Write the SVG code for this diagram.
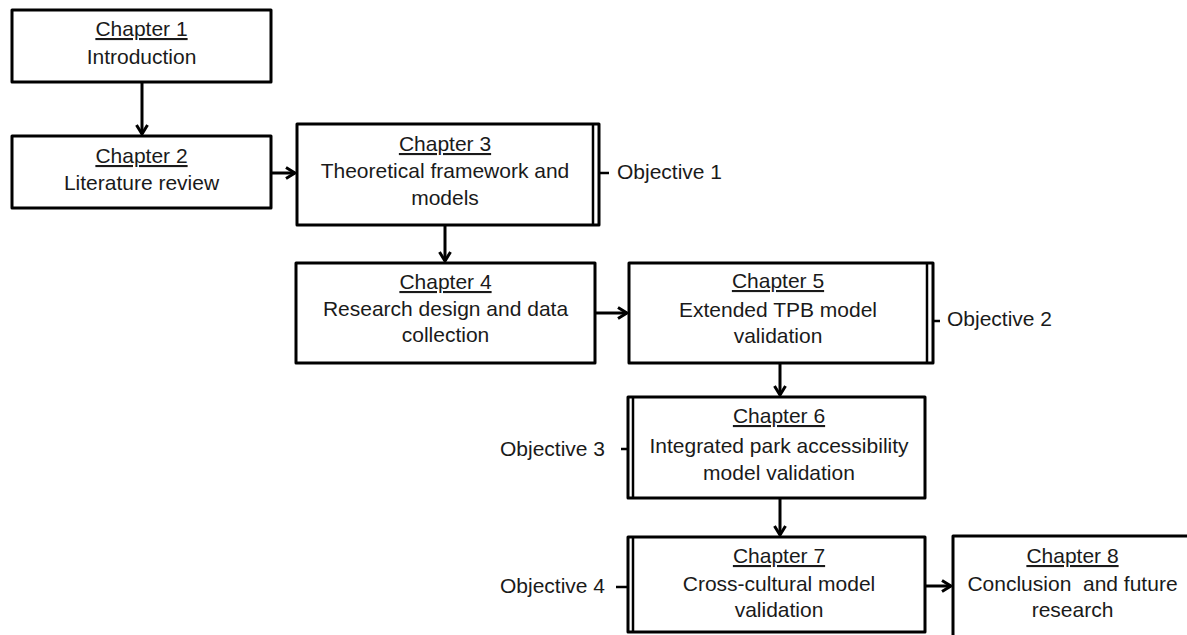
<svg xmlns="http://www.w3.org/2000/svg" width="1187" height="635" viewBox="0 0 1187 635">
<defs>
<style>
.box{fill:#fff;stroke:#000;stroke-width:3;stroke-linejoin:round}
.dl{stroke:#000;stroke-width:2.5;fill:none}
.t{font-family:"Liberation Sans",Arial,sans-serif;font-size:21px;fill:#1a1a1a;text-anchor:middle}
.u{text-decoration:underline}
.o{font-family:"Liberation Sans",Arial,sans-serif;font-size:21px;fill:#1a1a1a}
.c{stroke:#000;stroke-width:3;fill:none}
.tick{stroke:#000;stroke-width:2.5}
</style>
<marker id="ah" viewBox="0 0 12 14" refX="10.5" refY="7" markerWidth="12" markerHeight="14" markerUnits="userSpaceOnUse" orient="auto">
<path d="M1.5,1.5 L10.5,7 L1.5,12.5" fill="none" stroke="#000" stroke-width="3" stroke-linejoin="miter"/>
</marker>
</defs>
<rect width="1187" height="635" fill="#fff"/>
<g id="connectors">
<line class="c" x1="142" y1="82" x2="142" y2="134" marker-end="url(#ah)"/>
<line class="c" x1="271" y1="173" x2="295" y2="173" marker-end="url(#ah)"/>
<line class="c" x1="445" y1="225" x2="445" y2="261" marker-end="url(#ah)"/>
<line class="c" x1="595" y1="313" x2="627" y2="313" marker-end="url(#ah)"/>
<line class="c" x1="780" y1="363" x2="780" y2="395" marker-end="url(#ah)"/>
<line class="c" x1="780" y1="498" x2="780" y2="535" marker-end="url(#ah)"/>
<line class="c" x1="925" y1="586" x2="951" y2="586" marker-end="url(#ah)"/>
</g>
<g id="ch1">
<rect class="box" x="12" y="10" width="259" height="72"/>
<text class="t u" x="141.5" y="36">Chapter 1</text>
<text class="t" x="141.5" y="64">Introduction</text>
</g>
<g id="ch2">
<rect class="box" x="12" y="136" width="259" height="72"/>
<text class="t u" x="141.5" y="163">Chapter 2</text>
<text class="t" x="141.5" y="190">Literature review</text>
</g>
<g id="ch3">
<rect class="box" x="297" y="124" width="302" height="101"/>
<line class="dl" x1="593" y1="124" x2="593" y2="225"/>
<text class="t u" x="445" y="151">Chapter 3</text>
<text class="t" x="445" y="178">Theoretical framework and</text>
<text class="t" x="445" y="205">models</text>
</g>
<g id="obj1">
<line class="tick" x1="600" y1="173" x2="609" y2="173"/>
<text class="o" x="617" y="179">Objective 1</text>
</g>
<g id="ch4">
<rect class="box" x="296" y="263" width="299" height="100"/>
<text class="t u" x="445.5" y="289">Chapter 4</text>
<text class="t" x="445.5" y="316">Research design and data</text>
<text class="t" x="445.5" y="342">collection</text>
</g>
<g id="ch5">
<rect class="box" x="629" y="263" width="304" height="100"/>
<line class="dl" x1="927" y1="263" x2="927" y2="363"/>
<text class="t u" x="778" y="288">Chapter 5</text>
<text class="t" x="778" y="317">Extended TPB model</text>
<text class="t" x="778" y="343">validation</text>
</g>
<g id="obj2">
<line class="tick" x1="933" y1="321" x2="940" y2="321"/>
<text class="o" x="947" y="326">Objective 2</text>
</g>
<g id="ch6">
<rect class="box" x="628" y="397" width="297" height="101"/>
<line class="dl" x1="633" y1="397" x2="633" y2="498"/>
<text class="t u" x="779" y="423">Chapter 6</text>
<text class="t" x="779" y="453">Integrated park accessibility</text>
<text class="t" x="779" y="480">model validation</text>
</g>
<g id="obj3">
<line class="tick" x1="621" y1="449" x2="629" y2="449"/>
<text class="o" x="500" y="456">Objective 3</text>
</g>
<g id="ch7">
<rect class="box" x="628" y="537" width="297" height="95"/>
<line class="dl" x1="633" y1="537" x2="633" y2="632"/>
<text class="t u" x="779" y="563">Chapter 7</text>
<text class="t" x="779" y="591">Cross-cultural model</text>
<text class="t" x="779" y="617">validation</text>
</g>
<g id="obj4">
<line class="tick" x1="616" y1="587" x2="629" y2="587"/>
<text class="o" x="500" y="593">Objective 4</text>
</g>
<g id="ch8">
<rect class="box" x="953" y="536" width="239" height="110"/>
<text class="t u" x="1072.5" y="563">Chapter 8</text>
<text class="t" x="1072.5" y="591" xml:space="preserve">Conclusion  and future</text>
<text class="t" x="1072.5" y="617">research</text>
</g>
</svg>
